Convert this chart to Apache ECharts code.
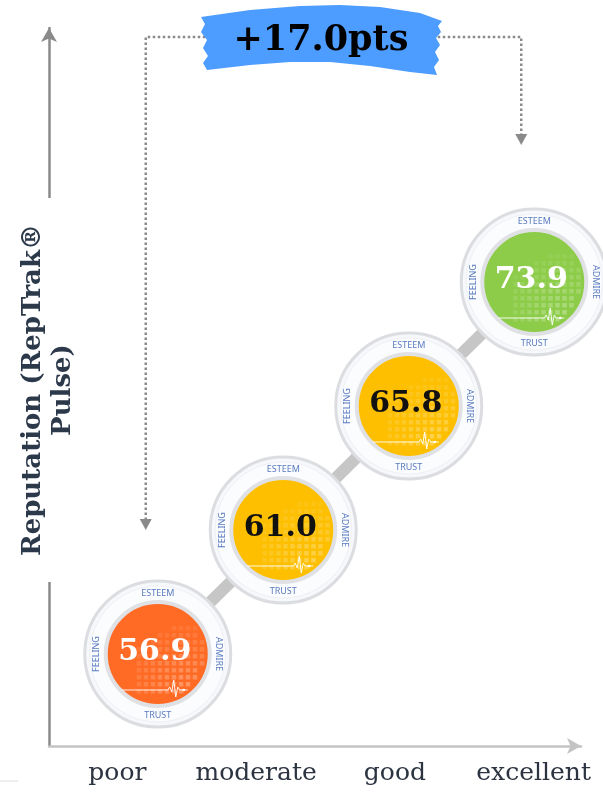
<!DOCTYPE html>
<html>
<head>
<meta charset="utf-8">
<script src="https://cdn.jsdelivr.net/npm/echarts@6/dist/echarts.min.js"></script>
<style>html,body{margin:0;padding:0;background:#fff;}#chart{width:603px;height:793px;}</style>
</head>
<body>
<div id="chart"></div>
<script>
// ---- data ----
const categories = ['poor', 'moderate', 'good', 'excellent'];
const scores = [56.9, 61.0, 65.8, 73.9];
const scoreLabels = scores.map(v => v.toFixed(1));
const ringWords = ['ESTEEM', 'ADMIRE', 'TRUST', 'FEELING'];
const yTitle = 'Reputation (RepTrak®\nPulse)';
const changeLabel = '+' + (scores[scores.length - 1] - scores[0]).toFixed(1) + 'pts';

// ---- styles ----
const fills = ['#ff6b25', '#fdbf00', '#fdbf00', '#8ccc48'];
const numColors = ['#ffffff', '#111111', '#111111', '#ffffff'];
const SERIF = '"DejaVu Serif", "Liberation Serif", serif';

const chart = echarts.init(document.getElementById('chart'), null, {renderer: 'canvas'});

function renderCircle(params, api) {
  const p = api.coord([api.value(0), api.value(1)]);
  const cx = p[0], cy = p[1];
  const i = params.dataIndex;
  const R = 73, r = 52;
  const ch = [];
  ch.push({type: 'circle', shape: {cx, cy, r: R}, style: {fill: '#f6f8fb', stroke: '#dcdde0', lineWidth: 3}});
  ch.push({type: 'circle', shape: {cx, cy, r: R - 5}, style: {fill: '#fbfcfe', stroke: '#eef0f3', lineWidth: 1}});
  ch.push({type: 'circle', shape: {cx, cy, r: r}, style: {fill: fills[i], stroke: '#e0e1e4', lineWidth: 4}});
  // square pattern
  const pitch = 7, sz = 4.5;
  for (let gx = -21; gx <= 49; gx += pitch) {
    for (let gy = -28; gy <= 35; gy += pitch) {
      const sx = cx + gx, sy = cy + gy;
      const dIn = Math.hypot(gx + sz / 2, gy + sz / 2);
      const dPat = Math.hypot(gx - 25, gy - 30);
      if (dIn < r - 6 && dPat < 60) {
        ch.push({type: 'rect', shape: {x: sx, y: sy, width: sz, height: sz},
          style: {fill: 'rgba(255,255,255,' + (0.30 - dPat / 260).toFixed(3) + ')'}});
      }
    }
  }
  // pulse line
  ch.push({type: 'polyline', shape: {points: [[cx - 36, cy + 36], [cx + 10, cy + 36], [cx + 12, cy + 33], [cx + 14, cy + 38], [cx + 16, cy + 26], [cx + 18, cy + 43], [cx + 20, cy + 33], [cx + 22, cy + 36], [cx + 30, cy + 36]]},
    style: {stroke: 'rgba(255,255,255,0.9)', lineWidth: 1, fill: null}});
  ch.push({type: 'circle', shape: {cx: cx + 26, cy: cy + 36, r: 1.3}, style: {fill: '#fff'}});
  // value
  ch.push({type: 'text', x: cx - 3, y: cy - 2, style: {text: scoreLabels[i], font: 'bold 30px ' + SERIF, fill: numColors[i], align: 'center', verticalAlign: 'middle'}});
  // ring words
  const wf = '9px "Noto Sans", sans-serif', wc = '#5a7bc0', rr = 61;
  ch.push({type: 'text', x: cx, y: cy - rr, style: {text: ringWords[0], font: wf, fill: wc, align: 'center', verticalAlign: 'middle'}});
  ch.push({type: 'text', x: cx + rr, y: cy, rotation: -Math.PI / 2, style: {text: ringWords[1], font: wf, fill: wc, align: 'center', verticalAlign: 'middle'}});
  ch.push({type: 'text', x: cx, y: cy + rr, style: {text: ringWords[2], font: wf, fill: wc, align: 'center', verticalAlign: 'middle'}});
  ch.push({type: 'text', x: cx - rr, y: cy, rotation: Math.PI / 2, style: {text: ringWords[3], font: wf, fill: wc, align: 'center', verticalAlign: 'middle'}});
  return {type: 'group', children: ch};
}

const pointData = categories.map((c, i) => [c, scoreLabels[i]]);

const option = {
  backgroundColor: '#ffffff',
  animation: false,
  grid: [
    {left: 49, right: 22, top: 28, bottom: 47},
    {left: 48, right: -1, top: 28, bottom: 47},
    {left: 95, right: 6, top: 220, bottom: 77}
  ],
  xAxis: [
    {gridIndex: 0, type: 'value', min: 0, max: 1, axisLabel: {show: false}, axisTick: {show: false}, splitLine: {show: false},
      axisLine: {show: true, symbol: ['none', 'arrow'], symbolSize: [12, 14], lineStyle: {color: '#c4c4c4', width: 2.5}}},
    {gridIndex: 1, type: 'category', data: categories, boundaryGap: true, axisLine: {show: false}, axisTick: {show: false},
      axisLabel: {interval: 0, fontFamily: SERIF, fontSize: 25, color: '#2b3440', margin: 15}},
    {gridIndex: 2, type: 'category', data: categories, boundaryGap: true, show: false}
  ],
  yAxis: [
    {gridIndex: 0, type: 'value', min: 0, max: 1, axisLabel: {show: false}, axisTick: {show: false}, splitLine: {show: false},
      axisLine: {show: true, symbol: ['none', 'arrow'], symbolSize: [12, 14], lineStyle: {color: '#8a8a8a', width: 2.5}}},
    {gridIndex: 1, type: 'value', show: false},
    {gridIndex: 2, type: 'category', data: scoreLabels, boundaryGap: true, show: false}
  ],
  series: [
    {type: 'line', xAxisIndex: 2, yAxisIndex: 2, data: pointData, symbol: 'none', z: 1,
      lineStyle: {color: '#c6c6c6', width: 12}},
    {type: 'custom', xAxisIndex: 2, yAxisIndex: 2, data: pointData, z: 3, renderItem: renderCircle}
  ]
};
chart.setOption(option);

// annotation linked to first and last circles
const first = chart.convertToPixel({xAxisIndex: 2, yAxisIndex: 2}, pointData[0]);
const last = chart.convertToPixel({xAxisIndex: 2, yAxisIndex: 2}, pointData[pointData.length - 1]);
const lx = first[0] - 12, ly = first[1] - 124;
const rx = last[0] - 13, ry = last[1] - 137;
const topY = 37;
const dot = {stroke: '#8a8a8a', lineWidth: 2.5, lineDash: [2.5, 2.5], fill: null};
chart.setOption({
  graphic: [
    {type: 'polyline', z: 5, shape: {points: [[lx, ly - 10], [lx, topY], [rx, topY], [rx, ry - 10]]}, style: dot},
    {type: 'polygon', z: 5, shape: {points: [[lx - 6, ly - 11], [lx + 6, ly - 11], [lx, ly]]}, style: {fill: '#8a8a8a'}},
    {type: 'polygon', z: 5, shape: {points: [[rx - 6, ry - 11], [rx + 6, ry - 11], [rx, ry]]}, style: {fill: '#8a8a8a'}},
    {type: 'polygon', z: 6, shape: {points: [[201, 17], [250, 10], [300, 6], [340, 5], [380, 7], [420, 13], [442, 21],
      [438, 26], [441, 32], [436, 38], [440, 45], [435, 52], [439, 60], [434, 67], [437, 75],
      [410, 72], [370, 66], [330, 62], [290, 62], [250, 65], [207, 70],
      [203, 63], [208, 56], [203, 48], [207, 40], [201, 32], [205, 24]]}, style: {fill: '#4d9cff'}},
    {type: 'text', z: 7, x: 321, y: 41, style: {text: changeLabel, font: 'bold 35px ' + SERIF, fill: '#000', align: 'center', verticalAlign: 'middle'}},
    {type: 'text', z: 20, x: 48, y: 390, rotation: Math.PI / 2,
      style: {text: yTitle, font: 'bold 26px ' + SERIF, fill: '#2c394a', align: 'center', verticalAlign: 'middle',
        lineHeight: 30, backgroundColor: '#ffffff', padding: [2, 26]}},
    {type: 'line', z: 5, shape: {x1: 0, y1: 781, x2: 18, y2: 781}, style: {stroke: '#dddddd', lineWidth: 1}}
  ]
});
</script>
</body>
</html>
